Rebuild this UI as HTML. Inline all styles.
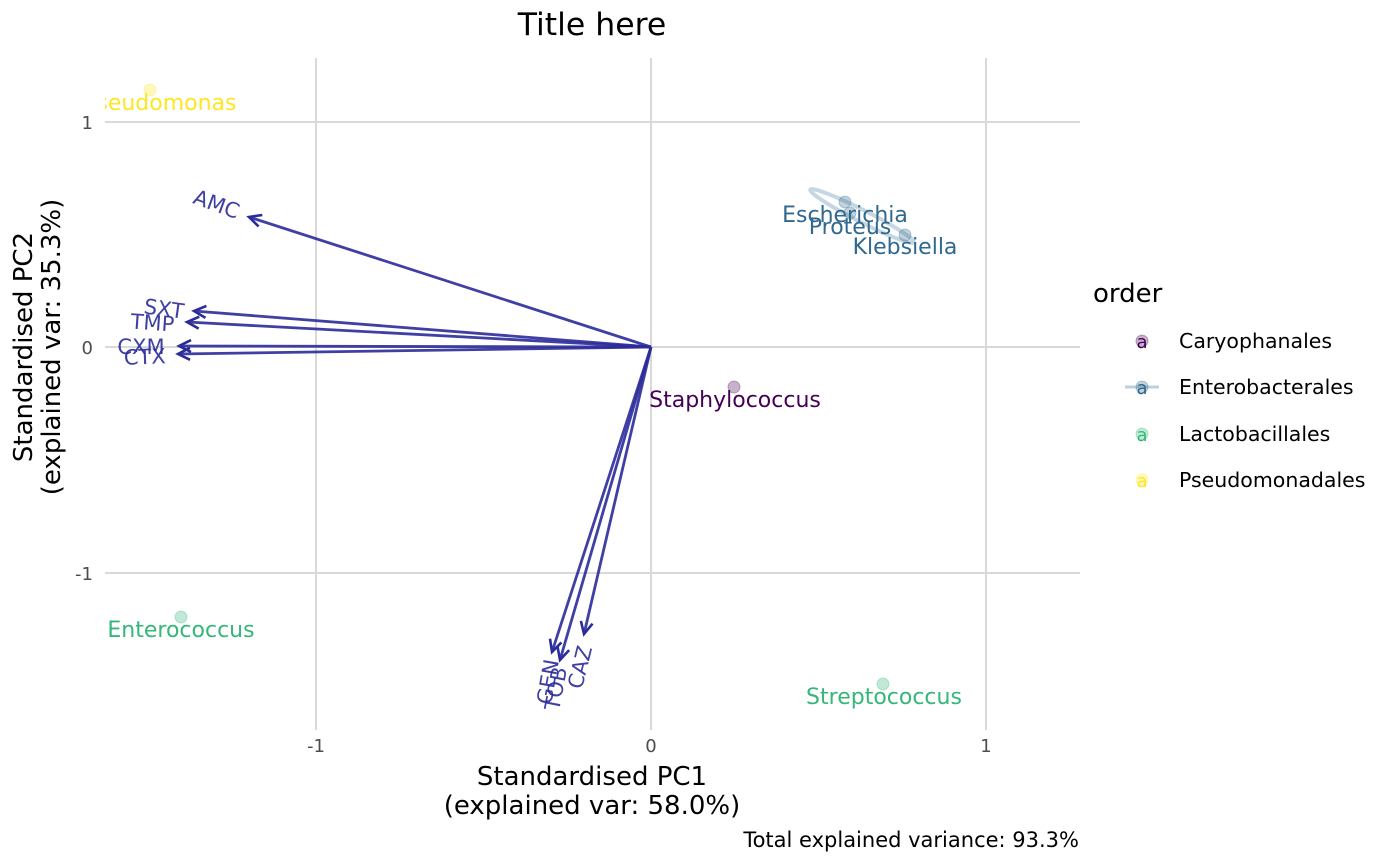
<!DOCTYPE html>
<html><head><meta charset="utf-8"><style>body{margin:0;background:#fff}svg{display:block}text{font-family:"DejaVu Sans","Liberation Sans",sans-serif}</style></head><body>
<svg width="1400" height="866" viewBox="0 0 1400 866">
<defs>
<clipPath id="p"><rect x="105" y="58" width="975" height="672"/></clipPath>
<marker id="ah" markerWidth="16" markerHeight="16" refX="13" refY="8" orient="auto" markerUnits="userSpaceOnUse"><path d="M1,2 L13,8 L1,14" fill="none" stroke="#2B2B9A" stroke-width="2.6"/></marker>
</defs>
<text x="592" y="35" font-size="31.5" text-anchor="middle" fill="#000">Title here</text>
<g stroke="#d9d9d9" stroke-width="2">
<line x1="316" y1="58" x2="316" y2="730"/><line x1="651" y1="58" x2="651" y2="730"/><line x1="986" y1="58" x2="986" y2="730"/>
<line x1="105" y1="122" x2="1080" y2="122"/><line x1="105" y1="347" x2="1080" y2="347"/><line x1="105" y1="573" x2="1080" y2="573"/>
</g>
<g font-size="18" fill="#4d4d4d">
<text x="93" y="129" text-anchor="end">1</text><text x="93" y="354" text-anchor="end">0</text><text x="93" y="580" text-anchor="end">-1</text>
<text x="316" y="752" text-anchor="middle">-1</text><text x="651" y="752" text-anchor="middle">0</text><text x="986" y="752" text-anchor="middle">1</text>
</g>
<g font-size="26" fill="#000" text-anchor="middle">
<text x="592" y="785">Standardised PC1</text><text x="592" y="814">(explained var: 58.0%)</text>
<text transform="translate(32,347) rotate(-90)">Standardised PC2</text>
<text transform="translate(60,347) rotate(-90)">(explained var: 35.3%)</text>
</g>
<text x="1079" y="847" font-size="21" text-anchor="end" fill="#000">Total explained variance: 93.3%</text>
<g clip-path="url(#p)">
<ellipse cx="862" cy="216" rx="58" ry="6" transform="rotate(27 862 216)" fill="none" stroke="#9fbdd0" stroke-opacity="0.6" stroke-width="4"/>
<g fill-opacity="0.3" stroke-opacity="0.3">
<circle cx="150" cy="90" r="6" fill="#FDE725" stroke="#FDE725"/>
<circle cx="734" cy="387" r="6" fill="#440154" stroke="#440154"/>
<circle cx="845" cy="202" r="6" fill="#31688E" stroke="#31688E"/>
<circle cx="850" cy="213" r="6" fill="#31688E" stroke="#31688E"/>
<circle cx="905" cy="235" r="6" fill="#31688E" stroke="#31688E"/>
<circle cx="181" cy="617" r="6" fill="#35B779" stroke="#35B779"/>
<circle cx="883" cy="684" r="6" fill="#35B779" stroke="#35B779"/>
</g>
<g stroke="#2B2B9A" stroke-opacity="0.9" stroke-width="2.8" fill="none" marker-end="url(#ah)">
<line x1="651" y1="347" x2="249" y2="217"/>
<line x1="651" y1="347" x2="194" y2="311"/>
<line x1="651" y1="347" x2="187" y2="322"/>
<line x1="651" y1="347" x2="179" y2="346"/>
<line x1="651" y1="347" x2="178" y2="354"/>
<line x1="651" y1="347" x2="552" y2="652"/>
<line x1="651" y1="347" x2="560" y2="660"/>
<line x1="651" y1="347" x2="584" y2="634"/>
</g>
<g font-size="21" fill="#2B2B9A" fill-opacity="0.9" text-anchor="middle">
<text transform="translate(214,211) rotate(20)">AMC</text>
<text transform="translate(163,316) rotate(8)">SXT</text>
<text transform="translate(152,330) rotate(4)">TMP</text>
<text transform="translate(141,354)">CXM</text>
<text transform="translate(145,364) rotate(-2)">CTX</text>
<text transform="translate(555,683) rotate(-80)">GEN</text>
<text transform="translate(563,690) rotate(-79)">TOB</text>
<text transform="translate(587,669) rotate(-76)">CAZ</text>
</g>
<g font-size="22" text-anchor="middle">
<text x="160" y="110" fill="#FDE725">Pseudomonas</text>
<text x="735" y="407" fill="#440154">Staphylococcus</text>
<text x="845" y="222" fill="#31688E">Escherichia</text>
<text x="850" y="234" fill="#31688E">Proteus</text>
<text x="905" y="254" fill="#31688E">Klebsiella</text>
<text x="181" y="637" fill="#35B779">Enterococcus</text>
<text x="884" y="704" fill="#35B779">Streptococcus</text>
</g>
</g>
<text x="1093" y="302" font-size="26" fill="#000">order</text>
<g font-size="20.5" fill="#000">
<circle cx="1142" cy="341" r="6" fill="#440154" fill-opacity="0.3" stroke="#440154" stroke-opacity="0.3"/>
<text x="1142" y="348" font-size="18" text-anchor="middle" fill="#440154">a</text>
<text x="1179" y="348">Caryophanales</text>
<line x1="1125" y1="387" x2="1159" y2="387" stroke="#9fbdd0" stroke-width="3" stroke-opacity="0.7"/>
<circle cx="1142" cy="387" r="6" fill="#31688E" fill-opacity="0.3" stroke="#31688E" stroke-opacity="0.3"/>
<text x="1142" y="394" font-size="18" text-anchor="middle" fill="#31688E">a</text>
<text x="1179" y="394">Enterobacterales</text>
<circle cx="1142" cy="434" r="6" fill="#35B779" fill-opacity="0.3" stroke="#35B779" stroke-opacity="0.3"/>
<text x="1142" y="441" font-size="18" text-anchor="middle" fill="#35B779">a</text>
<text x="1179" y="441">Lactobacillales</text>
<circle cx="1142" cy="480" r="6" fill="#FDE725" fill-opacity="0.3" stroke="#FDE725" stroke-opacity="0.3"/>
<text x="1142" y="487" font-size="18" text-anchor="middle" fill="#FDE725">a</text>
<text x="1179" y="487">Pseudomonadales</text>
</g>
</svg>
</body></html>
